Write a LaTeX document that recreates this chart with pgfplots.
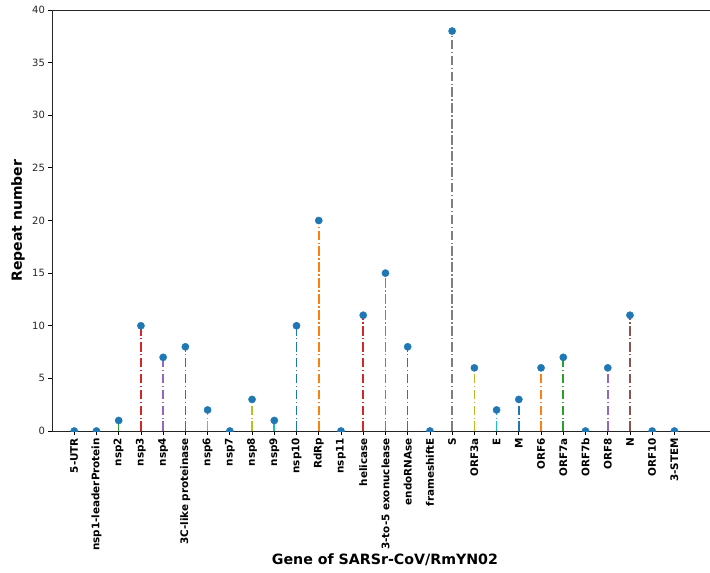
\documentclass[border=0pt]{standalone}
\usepackage{pgfplots}
\pgfplotsset{compat=1.18}
\usepackage{fontspec}
\setmainfont{DejaVu Sans}

% matplotlib tab10
\definecolor{c0}{HTML}{1F77B4}
\definecolor{c1}{HTML}{FF7F0E}
\definecolor{c2}{HTML}{2CA02C}
\definecolor{c3}{HTML}{D62728}
\definecolor{c4}{HTML}{9467BD}
\definecolor{c5}{HTML}{8C564B}
\definecolor{c6}{HTML}{E377C2}
\definecolor{c7}{HTML}{7F7F7F}
\definecolor{c8}{HTML}{BCBD22}
\definecolor{c9}{HTML}{17BECF}

\pgfplotsset{
  stem/.style={ycomb, line width=1.6pt, dash pattern=on 9.6pt off 2.4pt on 1.5pt off 2.4pt,
    mark=*, mark size=3.6pt, mark options={solid, draw=c0, fill=c0, line width=0.4pt}},
}

\begin{document}
\begin{tikzpicture}
\begin{axis}[
  scale only axis,
  width=658pt, height=421pt,
  xmin=-1, xmax=28.6,
  ymin=0, ymax=40,
  ytick={0,5,...,40},
  xtick={0,...,27},
  xticklabels={5-UTR, nsp1-leaderProtein, nsp2, nsp3, nsp4, 3C-like proteinase, nsp6, nsp7, nsp8, nsp9, nsp10, RdRp, nsp11, helicase, 3-to-5 exonuclease, endoRNAse, frameshiftE, S, ORF3a, E, M, ORF6, ORF7a, ORF7b, ORF8, N, ORF10, 3-STEM},
  axis x line=box, axis y line=left,
  axis line style={-, black!85, line width=0.8pt},
  xtick pos=bottom, ytick pos=left,
  tick align=outside, major tick length=3.5pt,
  tick style={black, line width=0.8pt},
  /pgf/number format/assume math mode=true,
  yticklabel style={font=\fontsize{10}{12}\selectfont, text=black!85},
  xticklabel style={font=\fontsize{10.4}{12}\selectfont\bfseries, rotate=90, anchor=east},
  ylabel={\bfseries Repeat number},
  ylabel style={font=\fontsize{14}{16}\selectfont, at={(axis description cs:-0.0517,0.5)}, anchor=center},
  xlabel={\bfseries Gene of SARSr-CoV/RmYN02},
  xlabel style={font=\fontsize{14.2}{16}\selectfont, at={(axis description cs:0.506,-0.3064)}, anchor=center},
  clip marker paths=true,
  cycle list={{c0},{c1},{c2},{c3},{c4},{c5},{c6},{c7},{c8},{c9}},
]
\coordinate (O) at (rel axis cs:0,0);
\addplot+[stem] coordinates {(0,0)};
\addplot+[stem] coordinates {(1,0)};
\addplot+[stem] coordinates {(2,1)};
\addplot+[stem] coordinates {(3,10)};
\addplot+[stem] coordinates {(4,7)};
\addplot+[stem] coordinates {(5,8)};
\addplot+[stem] coordinates {(6,2)};
\addplot+[stem] coordinates {(7,0)};
\addplot+[stem] coordinates {(8,3)};
\addplot+[stem] coordinates {(9,1)};
\addplot+[stem] coordinates {(10,10)};
\addplot+[stem] coordinates {(11,20)};
\addplot+[stem] coordinates {(12,0)};
\addplot+[stem] coordinates {(13,11)};
\addplot+[stem] coordinates {(14,15)};
\addplot+[stem] coordinates {(15,8)};
\addplot+[stem] coordinates {(16,0)};
\addplot+[stem] coordinates {(17,38)};
\addplot+[stem] coordinates {(18,6)};
\addplot+[stem] coordinates {(19,2)};
\addplot+[stem] coordinates {(20,3)};
\addplot+[stem] coordinates {(21,6)};
\addplot+[stem] coordinates {(22,7)};
\addplot+[stem] coordinates {(23,0)};
\addplot+[stem] coordinates {(24,6)};
\addplot+[stem] coordinates {(25,11)};
\addplot+[stem] coordinates {(26,0)};
\addplot+[stem] coordinates {(27,0)};
\end{axis}
\pgfresetboundingbox
\path[use as bounding box] ([shift={(-52pt,-142pt)}]O) rectangle ++(710pt,573pt);
\end{tikzpicture}
\end{document}
